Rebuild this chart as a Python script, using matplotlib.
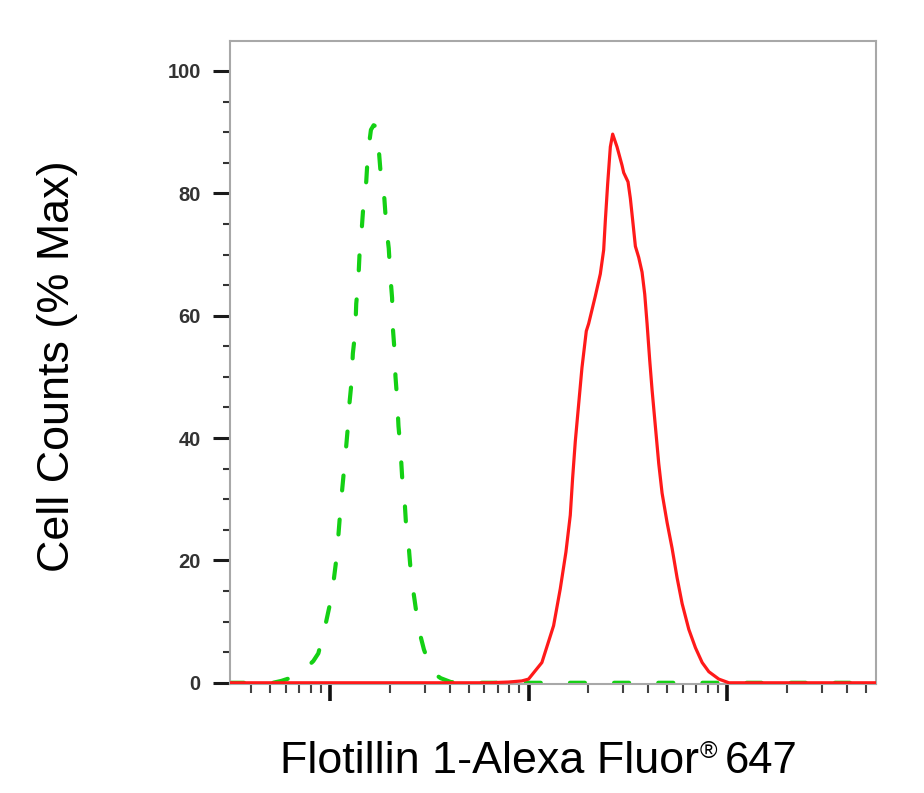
import matplotlib
matplotlib.use("Agg")
import matplotlib.pyplot as plt
from matplotlib.ticker import LogLocator, MultipleLocator, NullFormatter, FixedLocator

# ---- data ----
# Isotype control (green dashed): fluorescence intensity vs % max
green_x = [31, 44.2, 51.6, 56.9, 65.2, 71.8, 82.4, 87.3, 93.5, 100, 104.0, 108.1, 110.6,
           113.3, 115.9, 119.6, 122.4, 125.3, 128.3, 130.3, 133.9, 135.5, 138.7, 140.8,
           144.2, 147.6, 152.2, 155.2, 160.7, 165.8, 169.1, 175.8, 180.6, 187.8, 192.2,
           197.6, 201.5, 205.4, 207.0, 211.1, 213.6, 217.8, 221.2, 226.4, 230.9, 237.2,
           241.9, 249.5, 256.4, 266.6, 279.3, 297.2, 327.6, 361.1, 405.7, 456.0, 56000]
green_y = [0, 0, 0, 0.31, 0.94, 1.69, 3.56, 4.81, 8.56, 12.93, 16.37, 20.74, 24.79,
           29.17, 32.6, 37.29, 41.04, 45.72, 49.16, 53.84, 57.28, 61.96, 65.52, 70.08,
           73.83, 78.51, 81.95, 86.63, 90.38, 91.13, 91.0, 87.38, 82.57, 79.14, 74.45,
           71.02, 66.33, 62.9, 58.21, 54.46, 50.09, 46.34, 41.97, 38.22, 33.54, 30.1,
           25.42, 21.99, 17.3, 13.55, 8.87, 5.43, 1.69, 0.75, 0.12, 0, 0]

# Flotillin 1 stained (red solid)
red_log = [1.49, 2.798, 2.899, 2.966, 3.0, 3.0673, 3.1262, 3.1598, 3.1884, 3.2103, 3.222,
           3.2355, 3.2523, 3.2691, 3.291, 3.3028, 3.3364, 3.3616, 3.3785, 3.3869, 3.3987,
           3.4121, 3.4239, 3.4458, 3.471, 3.4794, 3.5013, 3.513, 3.5248, 3.5383, 3.5551,
           3.5719, 3.5854, 3.5972, 3.6106, 3.6224, 3.6392, 3.656, 3.6728, 3.6981, 3.7233,
           3.7485, 3.7738, 3.8074, 3.841, 3.8747, 3.9083, 3.9588, 4.0092, 4.75]
red_y = [0, 0, 0.12, 0.3, 0.6, 3.31, 9.33, 15.35, 21.37, 27.39, 33.41,
         39.43, 45.45, 51.47, 57.49, 58.69, 63.2, 66.82, 70.73, 75.55, 81.57,
         87.59, 89.68, 87.59, 84.58, 83.38, 81.87, 79.16, 75.55, 71.34, 69.53,
         67.12, 63.51, 58.69, 52.67, 47.86, 41.84, 35.82, 31.0, 26.18, 21.97,
         17.15, 12.94, 8.73, 5.72, 3.31, 1.81, 0.6, 0, 0]
red_x = [10 ** v for v in red_log]

y_ticks = [0, 20, 40, 60, 80, 100]
x_label_main = "Flotillin 1-Alexa Fluor"
x_label_mark = "\u00ae"
x_label_tail = "647"
y_label = "Cell Counts (% Max)"

plt.rcParams["font.family"] = ["Liberation Sans", "DejaVu Sans"]

W, H = 924, 793
fig = plt.figure(figsize=(W / 100, H / 100), dpi=100)
ax = fig.add_axes([230 / W, 1 - 684 / H, (875.7 - 230) / W, (684 - 41) / H])

ax.plot(green_x, green_y, color="#14d014", lw=3.0, dashes=(3.6, 7.0),
        dash_capstyle="round", zorder=2)
ax.plot(red_x, red_y, color="#ff1a1a", lw=2.3, zorder=3)

ax.set_xscale("log")
ax.set_xlim(10 ** 1.496, 10 ** 4.749)
ax.set_ylim(-0.2, 104.9)

ax.xaxis.set_major_locator(FixedLocator([1e2, 1e3, 1e4]))
ax.xaxis.set_minor_locator(LogLocator(base=10, subs=(2, 3, 4, 5, 6, 7, 8, 9), numticks=20))
ax.xaxis.set_major_formatter(NullFormatter())
ax.xaxis.set_minor_formatter(NullFormatter())

ax.yaxis.set_major_locator(FixedLocator(y_ticks))
ax.yaxis.set_minor_locator(MultipleLocator(5))

for sp in ax.spines.values():
    sp.set_color("#a8a8a8")
    sp.set_linewidth(1.5)

ax.tick_params(axis="y", which="major", direction="out", length=12, width=2.2,
               color="#1a1a1a", pad=9, labelsize=14.5, labelcolor="#333333")
ax.tick_params(axis="y", which="minor", direction="out", length=5, width=1.5, color="#333333")
ax.tick_params(axis="x", which="major", direction="out", length=12, width=2.6, color="#111111")
ax.tick_params(axis="x", which="minor", direction="out", length=6.5, width=1.5, color="#444444")
for lbl in ax.get_yticklabels():
    lbl.set_fontweight("bold")

fig.text(58 / W, 1 - 366 / H, y_label, rotation=90, ha="center", va="center",
         fontsize=32.3, color="black")

# x label assembled from pieces: main text, small raised (R) mark, number
renderer = fig.canvas.get_renderer()
base_y = 1 - 773 / H
x0 = 279.5
t1 = fig.text(x0 / W, base_y, x_label_main, ha="left", va="baseline",
              fontsize=32.3, color="black")
bb1 = t1.get_window_extent(renderer)
x1 = bb1.x1 + 1
t2 = fig.text(x1 / W, base_y + 15 / H, x_label_mark, ha="left", va="baseline",
              fontsize=17, color="black")
bb2 = t2.get_window_extent(renderer)
x2 = bb2.x1 + 8
t3 = fig.text(x2 / W, base_y, x_label_tail, ha="left", va="baseline",
              fontsize=31.5, color="black")

fig.savefig("out.png", dpi=100)
